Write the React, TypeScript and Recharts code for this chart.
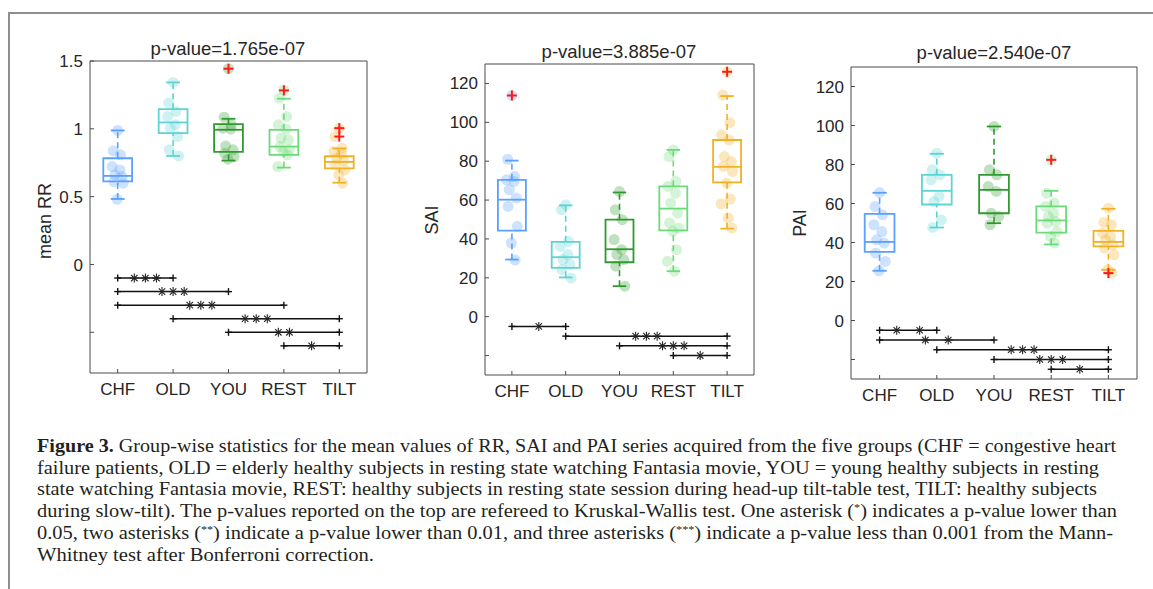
import { ComposedChart, XAxis, YAxis, Scatter, ReferenceArea, ReferenceLine } from "recharts";

const groups = ["CHF", "OLD", "YOU", "REST", "TILT"];
const groupColors = ["#5aa0ff", "#5ed3d3", "#2f9a2f", "#6cda78", "#f2b124"];

// [lower whisker, q1, median, q3, upper whisker] per group
const rrBoxes = [
  [0.483, 0.613, 0.653, 0.783, 0.988],
  [0.8, 0.968, 1.047, 1.145, 1.342],
  [0.766, 0.83, 0.993, 1.034, 1.074],
  [0.714, 0.808, 0.869, 0.993, 1.222],
  [0.603, 0.709, 0.756, 0.798, 0.855],
];
const rrDots = [
  [0.988, 0.837, 0.808, 0.722, 0.697, 0.66, 0.648, 0.611, 0.599, 0.48],
  [1.342, 1.19, 1.128, 1.091, 1.03, 1.005, 0.943, 0.845, 0.8],
  [1.443, 1.086, 1.03, 1.005, 0.998, 0.874, 0.845, 0.82, 0.796, 0.776],
  [1.288, 1.227, 1.091, 1.03, 0.998, 0.931, 0.919, 0.869, 0.845, 0.833, 0.808, 0.722],
  [1.005, 0.943, 0.857, 0.833, 0.82, 0.783, 0.766, 0.734, 0.697, 0.66, 0.599],
];
const rrOutliers = [[], [], [1.443], [1.283], [1.005, 0.943]];
const rrTicks = [-0.5, 0, 0.5, 1, 1.5];
// [from group, to group, level, asterisks, asterisk spacing]
const rrSig = [
  [1, 2, -0.1, 3, 0.2],
  [1, 3, -0.2, 3, 0.2],
  [1, 4, -0.3, 3, 0.2],
  [2, 5, -0.4, 3, 0.2],
  [3, 5, -0.5, 2, 0.2],
  [4, 5, -0.6, 1, 0.2],
];

const saiBoxes = [
  [29.4, 44.3, 60.2, 70.4, 80.3],
  [20.2, 25.1, 30.6, 38.5, 57.3],
  [15.7, 28, 34.7, 49.9, 63.9],
  [23.4, 44.4, 55.6, 67, 85.8],
  [45.3, 69.1, 77.1, 90.9, 113.5],
];
const saiDots = [
  [113.8, 81, 72.1, 70.4, 69.6, 65.3, 61, 56.8, 46.5, 37.9, 29.1],
  [57.6, 55, 38.8, 36.2, 32, 29.4, 26.8, 24.3, 19.8],
  [64.4, 55, 49.9, 39.7, 34.5, 32, 29.4, 26, 15.7],
  [85.8, 82.4, 69.6, 67, 63.6, 58.5, 53.3, 48.2, 45.6, 43.9, 34.5, 28.5, 23.4],
  [126, 114, 99.8, 93.5, 90.9, 82.4, 79.8, 77.3, 74.7, 68.7, 60.5, 58.1, 50.8, 45.6],
];
const saiOutliers = [[113.8], [], [], [], [126]];
const saiSig = [
  [1, 2, -5, 1, 0.2],
  [2, 5, -10, 3, 0.2],
  [3, 5, -15, 3, 0.2],
  [4, 5, -20, 1, 0.2],
];

const paiBoxes = [
  [25.5, 35.2, 40.3, 54.7, 65.5],
  [47.7, 59.5, 66.5, 74.7, 85.5],
  [49.9, 55, 67, 74.7, 99.5],
  [39, 45.1, 51.3, 58.5, 66.5],
  [26, 38, 40.3, 46, 57.3],
];
const paiDots = [
  [65.6, 58.5, 54.2, 49.1, 45.6, 41.4, 39.7, 34.5, 30.3, 25.5],
  [85.8, 77.3, 74.7, 72.1, 63.6, 61, 51.6, 47.7],
  [99.5, 77.3, 74.7, 68.7, 66.2, 55, 53.3, 49.1],
  [82.4, 65.3, 60.2, 58.5, 55, 53.3, 50.8, 49.9, 45.6, 43.1, 39.7],
  [57.6, 50.3, 49.1, 44.8, 43.1, 41.4, 38.8, 37.1, 33.7, 26, 24.3],
];
const paiOutliers = [[], [], [], [82.4], [24.3]];
const paiSig = [
  [1, 2, -5, 2, 0.4],
  [1, 3, -10, 2, 0.4],
  [2, 5, -15, 3, 0.2],
  [3, 5, -20, 3, 0.2],
  [4, 5, -25, 1, 0.2],
];
const indexTicks = [-20, 0, 20, 40, 60, 80, 100, 120];

// horizontal spread of the dots around each group
const jitter = [0.0, -0.08, 0.05, -0.1, 0.04, -0.05, 0.08, -0.07, 0.1, -0.01, 0.06, -0.11, 0.02, 0.09];

const AXIS = "#4a4a4a";
const TEXT = "#262626";
const ML = 70, MR = 20, MT = 40, MB = 40;

function Plus({ cx, cy, color, s, w }: any) {
  return (
    <g stroke={color} strokeWidth={w}>
      <line x1={cx - s} x2={cx + s} y1={cy} y2={cy} />
      <line x1={cx} x2={cx} y1={cy - s} y2={cy + s} />
    </g>
  );
}

function Star({ cx, cy }: any) {
  const s = 4.5;
  const d = 3.2;
  return (
    <g stroke="#222" strokeWidth={1.1}>
      <line x1={cx - s} x2={cx + s} y1={cy} y2={cy} />
      <line x1={cx} x2={cx} y1={cy - s} y2={cy + s} />
      <line x1={cx - d} x2={cx + d} y1={cy - d} y2={cy + d} />
      <line x1={cx - d} x2={cx + d} y1={cy + d} y2={cy - d} />
    </g>
  );
}

type PanelProps = {
  plot: { x: number; y: number; w: number; h: number };
  domain: [number, number];
  ticks: number[];
  boxes: number[][];
  dots: number[][];
  outliers: number[][];
  sig: number[][];
};

function Panel({ plot, domain, ticks, boxes, dots, outliers, sig }: PanelProps) {
  const W = plot.w + ML + MR;
  const H = plot.h + MT + MB;
  const bottom = MT + plot.h;

  const yTick = (props: any) => {
    const { x, y, payload } = props;
    const v = payload.value;
    return (
      <g>
        <line x1={ML} x2={ML + 4} y1={y} y2={y} stroke={AXIS} />
        {v >= 0 && (
          <text x={x} y={y} dy="0.355em" textAnchor="end" fontSize={17} fill={TEXT}>
            {String(v)}
          </text>
        )}
      </g>
    );
  };
  const xTick = (props: any) => {
    const { x, y, payload } = props;
    return (
      <g>
        <line x1={x} x2={x} y1={bottom} y2={bottom - 4} stroke={AXIS} />
        <text x={x} y={y} dy="0.71em" textAnchor="middle" fontSize={17} fill={TEXT}>
          {groups[payload.value - 1]}
        </text>
      </g>
    );
  };

  return (
    <div style={{ position: "absolute", left: plot.x - ML, top: plot.y - MT }}>
      <ComposedChart width={W} height={H} margin={{ top: MT, right: MR, bottom: MB - 30, left: ML - 60 }}>
        <XAxis
          xAxisId="b"
          dataKey="x"
          type="number"
          domain={[0.5, 5.5]}
          ticks={[1, 2, 3, 4, 5]}
          allowDataOverflow
          height={30}
          tickSize={4}
          tickMargin={6}
          tickLine={false}
          tick={xTick}
          stroke={AXIS}
        />
        <XAxis
          xAxisId="t"
          orientation="top"
          mirror
          type="number"
          domain={[0.5, 5.5]}
          ticks={[1, 2, 3, 4, 5]}
          allowDataOverflow
          tick={false}
          tickSize={4}
          stroke={AXIS}
        />
        <YAxis
          yAxisId="l"
          dataKey="y"
          type="number"
          domain={domain}
          ticks={ticks}
          allowDataOverflow
          width={60}
          tickSize={4}
          tickMargin={3}
          tickLine={false}
          tick={yTick}
          stroke={AXIS}
        />
        <YAxis
          yAxisId="r"
          orientation="right"
          mirror
          type="number"
          domain={domain}
          ticks={ticks}
          allowDataOverflow
          tick={false}
          tickSize={4}
          stroke={AXIS}
        />

        {boxes.map((b, i) => {
          const c = groupColors[i];
          const x = i + 1;
          return [
            <ReferenceLine key={`wu${i}`} xAxisId="b" yAxisId="l" segment={[{ x, y: b[3] }, { x, y: b[4] }]} stroke={c} strokeWidth={1.6} strokeDasharray="6 4" />,
            <ReferenceLine key={`wl${i}`} xAxisId="b" yAxisId="l" segment={[{ x, y: b[0] }, { x, y: b[1] }]} stroke={c} strokeWidth={1.6} strokeDasharray="6 4" />,
            <ReferenceLine key={`cu${i}`} xAxisId="b" yAxisId="l" segment={[{ x: x - 0.125, y: b[4] }, { x: x + 0.125, y: b[4] }]} stroke={c} strokeWidth={1.8} />,
            <ReferenceLine key={`cl${i}`} xAxisId="b" yAxisId="l" segment={[{ x: x - 0.125, y: b[0] }, { x: x + 0.125, y: b[0] }]} stroke={c} strokeWidth={1.8} />,
            <ReferenceArea key={`bx${i}`} xAxisId="b" yAxisId="l" x1={x - 0.26} x2={x + 0.26} y1={b[1]} y2={b[3]} fill="none" fillOpacity={0} stroke={c} strokeWidth={1.8} />,
            <ReferenceLine key={`md${i}`} xAxisId="b" yAxisId="l" segment={[{ x: x - 0.26, y: b[2] }, { x: x + 0.26, y: b[2] }]} stroke={c} strokeWidth={1.8} />,
          ];
        })}

        {dots.map((vals, i) => (
          <Scatter
            key={`d${i}`}
            xAxisId="b"
            yAxisId="l"
            data={vals.map((v, k) => ({ x: i + 1 + jitter[k % jitter.length], y: v }))}
            isAnimationActive={false}
            shape={(p: any) => <circle cx={p.cx} cy={p.cy} r={5.5} fill={groupColors[i]} fillOpacity={0.3} />}
          />
        ))}

        {outliers.map((vals, i) => (
          <Scatter
            key={`o${i}`}
            xAxisId="b"
            yAxisId="l"
            data={vals.map((v) => ({ x: i + 1, y: v }))}
            isAnimationActive={false}
            shape={(p: any) => <Plus cx={p.cx} cy={p.cy} color="#ff1a1a" s={5} w={2} />}
          />
        ))}

        {sig.map((r, i) => (
          <Scatter
            key={`s${i}`}
            xAxisId="b"
            yAxisId="l"
            data={[{ x: r[0], y: r[2] }, { x: r[1], y: r[2] }]}
            line={{ stroke: "#111", strokeWidth: 1.5 }}
            isAnimationActive={false}
            shape={(p: any) => <Plus cx={p.cx} cy={p.cy} color="#111" s={3.5} w={1.4} />}
          />
        ))}
        {sig.map((r, i) => (
          <Scatter
            key={`a${i}`}
            xAxisId="b"
            yAxisId="l"
            data={Array.from({ length: r[3] }, (_, k) => ({
              x: (r[0] + r[1]) / 2 + (k - (r[3] - 1) / 2) * r[4],
              y: r[2],
            }))}
            isAnimationActive={false}
            shape={(p: any) => <Star cx={p.cx} cy={p.cy} />}
          />
        ))}
      </ComposedChart>
    </div>
  );
}

const captionEnds = [1116, 1099, 1097, 1117, 1113, 374];
const captionTop = 425;
const captionBaselines = [452, 473.7, 495.4, 517.1, 538.8, 560.5];

function Sup({ children }: any) {
  return (
    <>
      <tspan dy={-6} fontSize={11}>{children}</tspan>
      <tspan dy={6}>)</tspan>
    </>
  );
}

function Caption() {
  const lines = [
    <>
      <tspan fontWeight="bold">Figure 3.</tspan>
      {" Group-wise statistics for the mean values of RR, SAI and PAI series acquired from the five groups (CHF = congestive heart"}
    </>,
    <>{"failure patients, OLD = elderly healthy subjects in resting state watching Fantasia movie, YOU = young healthy subjects in resting"}</>,
    <>{"state watching Fantasia movie, REST: healthy subjects in resting state session during head-up tilt-table test, TILT: healthy subjects"}</>,
    <>
      {"during slow-tilt). The p-values reported on the top are refereed to Kruskal-Wallis test. One asterisk ("}
      <Sup>*</Sup>
      <tspan>{" indicates a p-value lower than"}</tspan>
    </>,
    <>
      {"0.05, two asterisks ("}
      <Sup>**</Sup>
      <tspan>{" indicate a p-value lower than 0.01, and three asterisks ("}</tspan>
      <Sup>***</Sup>
      <tspan>{" indicate a p-value less than 0.001 from the Mann-"}</tspan>
    </>,
    <>{"Whitney test after Bonferroni correction."}</>,
  ];
  const x0 = 37;
  return (
    <svg
      width={1153}
      height={164}
      style={{ position: "absolute", left: 0, top: captionTop }}
      fontFamily="'Liberation Serif', serif"
      fontSize={18.5}
      fill="#231f20"
    >
      {lines.map((l, i) => (
        <text
          key={i}
          x={x0}
          y={captionBaselines[i] - captionTop}
          textLength={captionEnds[i] - x0}
          lengthAdjust="spacingAndGlyphs"
        >
          {l}
        </text>
      ))}
    </svg>
  );
}

const label = (text: string, x: number, y: number, size: number, rotate = false) => (
  <div
    style={{
      position: "absolute",
      left: x,
      top: y,
      transform: `translate(-50%, -50%)${rotate ? " rotate(-90deg)" : ""}`,
      fontSize: size,
      color: TEXT,
      whiteSpace: "nowrap",
      lineHeight: 1,
    }}
  >
    {text}
  </div>
);

export default function App() {
  return (
    <div
      style={{
        position: "absolute",
        left: 0,
        top: 0,
        width: 1153,
        height: 589,
        background: "#fff",
        overflow: "hidden",
        fontFamily: "'Liberation Sans', Arial, sans-serif",
      }}
    >
      <div
        style={{
          position: "absolute",
          left: 8,
          top: 12,
          width: 1150,
          height: 590,
          borderTop: "2px solid #8e8e8e",
          borderLeft: "2px solid #8e8e8e",
        }}
      />

      {label("p-value=1.765e-07", 228, 49, 18.5)}
      {label("p-value=3.885e-07", 619, 52, 18.5)}
      {label("p-value=2.540e-07", 994, 53, 18.5)}
      {label("mean RR", 45, 221, 18, true)}
      {label("SAI", 432, 220, 18, true)}
      {label("PAI", 800, 223, 18, true)}

      <Panel plot={{ x: 90, y: 61, w: 277, h: 312 }} domain={[-0.8, 1.5]} ticks={rrTicks} boxes={rrBoxes} dots={rrDots} outliers={rrOutliers} sig={rrSig} />
      <Panel plot={{ x: 485, y: 64, w: 269, h: 311 }} domain={[-30, 130]} ticks={indexTicks} boxes={saiBoxes} dots={saiDots} outliers={saiOutliers} sig={saiSig} />
      <Panel plot={{ x: 851, y: 67, w: 286, h: 312 }} domain={[-30, 130]} ticks={indexTicks} boxes={paiBoxes} dots={paiDots} outliers={paiOutliers} sig={paiSig} />

      <Caption />
    </div>
  );
}
